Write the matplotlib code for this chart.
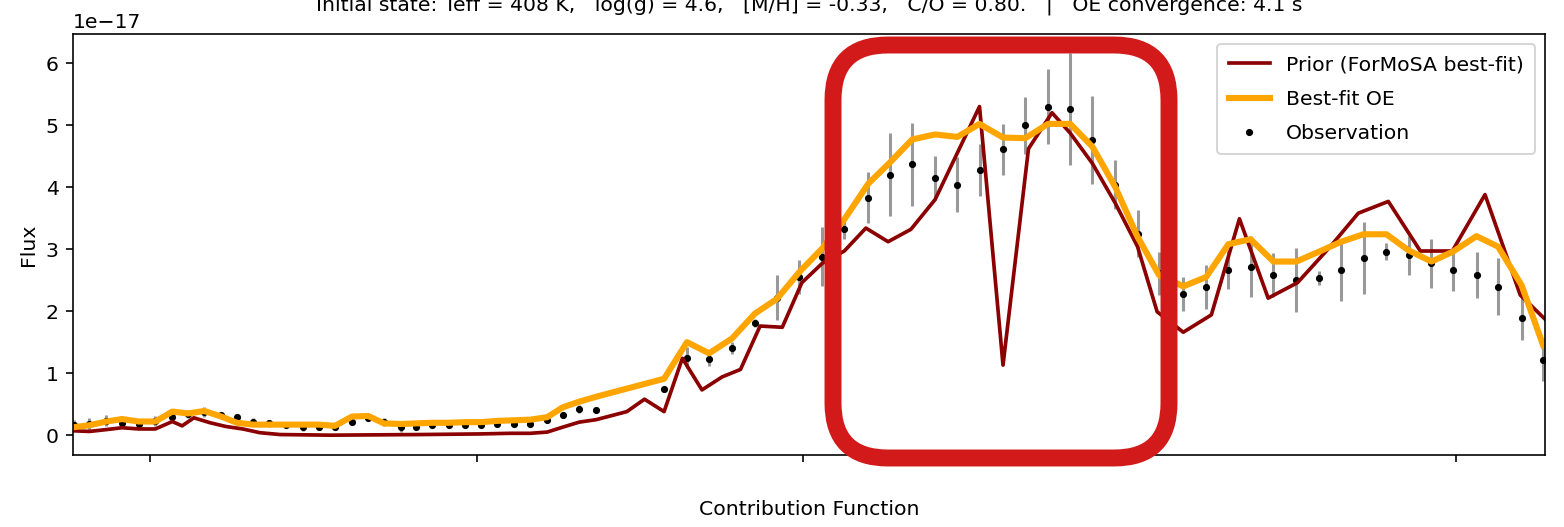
import matplotlib.pyplot as plt
from matplotlib.patches import FancyBboxPatch

# observed spectrum (wavelength in micron, flux in 1e-17)
obs_wl = [0.884, 0.907, 0.933, 0.957, 0.983, 1.008, 1.034, 1.058, 1.083, 1.109,
          1.133, 1.158, 1.182, 1.208, 1.234, 1.259, 1.283, 1.309, 1.334, 1.358,
          1.384, 1.407, 1.432, 1.458, 1.482, 1.507, 1.531, 1.557, 1.582, 1.608,
          1.632, 1.657, 1.683,
          1.787, 1.822, 1.856, 1.891, 1.926, 1.960, 1.994, 2.029, 2.063, 2.100,
          2.133, 2.167, 2.202, 2.236, 2.270, 2.306, 2.340, 2.375, 2.409, 2.443,
          2.478, 2.512, 2.545, 2.582, 2.617, 2.651, 2.685, 2.720, 2.755, 2.790,
          2.824, 2.858, 2.893, 2.927, 2.962, 2.995, 3.031, 3.064, 3.100, 3.133]
obs_flux = [0.16, 0.18, 0.23, 0.20, 0.18, 0.23, 0.30, 0.34, 0.38, 0.33,
            0.30, 0.22, 0.19, 0.17, 0.13, 0.13, 0.13, 0.21, 0.28, 0.21,
            0.13, 0.13, 0.16, 0.16, 0.16, 0.16, 0.18, 0.18, 0.18, 0.24,
            0.33, 0.42, 0.40,
            0.74, 1.25, 1.23, 1.41, 1.81, 2.22, 2.55, 2.88, 3.32, 3.83,
            4.20, 4.37, 4.15, 4.04, 4.28, 4.61, 5.00, 5.30, 5.26, 4.76,
            4.04, 3.25, 2.61, 2.28, 2.39, 2.66, 2.72, 2.58, 2.50, 2.53,
            2.66, 2.85, 2.96, 2.90, 2.77, 2.66, 2.58, 2.39, 1.89, 1.22]
obs_err = [0.08, 0.10, 0.09, 0.08, 0.08, 0.08, 0.03, 0.07, 0.08, 0.03,
           0.03, 0.05, 0.06, 0.05, 0.06, 0.05, 0.05, 0.03, 0.05, 0.06,
           0.08, 0.04, 0.03, 0.03, 0.03, 0.03, 0.03, 0.03, 0.03, 0.03,
           0.05, 0.06, 0.04,
           0.03, 0.17, 0.12, 0.10, 0.07, 0.36, 0.27, 0.48, 0.15, 0.41,
           0.67, 0.67, 0.35, 0.44, 0.42, 0.41, 0.46, 0.60, 0.91, 0.71,
           0.40, 0.38, 0.35, 0.27, 0.35, 0.31, 0.49, 0.35, 0.52, 0.11,
           0.49, 0.58, 0.14, 0.31, 0.40, 0.33, 0.37, 0.46, 0.35, 0.35]

# optimal estimation best fit, on the observed grid
oe_flux = [0.13, 0.16, 0.22, 0.26, 0.22, 0.22, 0.38, 0.35, 0.39, 0.30,
           0.20, 0.17, 0.17, 0.17, 0.17, 0.17, 0.15, 0.30, 0.31, 0.19,
           0.18, 0.19, 0.20, 0.20, 0.21, 0.21, 0.23, 0.24, 0.25, 0.29,
           0.45, 0.54, 0.62,
           0.91, 1.50, 1.32, 1.56, 1.96, 2.20, 2.63, 3.01, 3.48, 4.06,
           4.40, 4.77, 4.85, 4.81, 5.02, 4.80, 4.79, 5.02, 5.02, 4.65,
           4.00, 3.20, 2.58, 2.40, 2.55, 3.08, 3.16, 2.80, 2.80, 2.96,
           3.12, 3.24, 3.24, 2.98, 2.80, 2.96, 3.21, 3.04, 2.42, 1.45]

# ForMoSA prior model
prior_wl = [0.884, 0.907, 0.933, 0.957, 0.983, 1.008, 1.034, 1.049, 1.067, 1.092,
            1.116, 1.142, 1.168, 1.199, 1.276, 1.413, 1.505, 1.551, 1.582, 1.608,
            1.632, 1.657, 1.683, 1.730, 1.757, 1.787, 1.815, 1.845, 1.876, 1.904,
            1.934, 1.968, 1.998, 2.029, 2.063, 2.096, 2.130, 2.165, 2.202, 2.236,
            2.270, 2.306, 2.345, 2.381, 2.409, 2.443, 2.478, 2.512, 2.542, 2.582,
            2.625, 2.668, 2.712, 2.757, 2.807, 2.850, 2.896, 2.945, 2.994, 3.044,
            3.098, 3.136]
prior_flux = [0.07, 0.06, 0.09, 0.12, 0.10, 0.10, 0.22, 0.15, 0.28, 0.20,
              0.14, 0.10, 0.04, 0.01, 0.00, 0.01, 0.02, 0.03, 0.03, 0.05,
              0.13, 0.21, 0.25, 0.38, 0.58, 0.38, 1.24, 0.73, 0.94, 1.06,
              1.76, 1.74, 2.46, 2.77, 2.97, 3.34, 3.12, 3.32, 3.80, 4.55,
              5.30, 1.13, 4.62, 5.20, 4.87, 4.38, 3.74, 3.04, 1.99, 1.66,
              1.94, 3.49, 2.21, 2.46, 3.04, 3.58, 3.77, 2.97, 2.97, 3.88,
              2.26, 1.87]

scale = 1e-17
title = ("Initial state: Teff = 408 K,   log(g) = 4.6,   [M/H] = -0.33,   "
         "C/O = 0.80.   |   OE convergence: 4.1 s")

dpi = 147
fig = plt.figure(figsize=(1564 / dpi, 527 / dpi), dpi=dpi)
ax = fig.add_axes([0.0467, 0.1366, 0.9412, 0.7989])

ax.errorbar(obs_wl, [f * scale for f in obs_flux], yerr=[e * scale for e in obs_err],
            fmt='none', ecolor='gray', alpha=0.8, elinewidth=1.5)
obs_line, = ax.plot(obs_wl, [f * scale for f in obs_flux], 'k.', markersize=5,
                    label='Observation')
prior_line, = ax.plot(prior_wl, [f * scale for f in prior_flux], color='darkred',
                      linewidth=1.8, label='Prior (ForMoSA best-fit)')
oe_line, = ax.plot(obs_wl, [f * scale for f in oe_flux], color='orange',
                   linewidth=3, label='Best-fit OE')

ax.set_xlim(0.882, 3.136)
ax.set_ylim(-0.32e-17, 6.47e-17)
ax.set_xticks([1.0, 1.5, 2.0, 2.5, 3.0])
ax.set_xticklabels([])
ax.set_xlabel('Contribution Function', labelpad=15)
ax.set_ylabel('Flux')
ax.legend(handles=[prior_line, oe_line, obs_line], loc='upper right',
          labelspacing=0.75, borderpad=0.55)

fig.text(0.5173, 0.981, title, ha='center', va='baseline')

# highlight box drawn over the figure
box = FancyBboxPatch((833, 69), 336, 413, boxstyle='round,pad=0,rounding_size=55',
                     transform=None, fill=False, edgecolor='#d21a1a', linewidth=8.3,
                     zorder=10, clip_on=False)
fig.add_artist(box)

fig.savefig('out.png', dpi=dpi)
